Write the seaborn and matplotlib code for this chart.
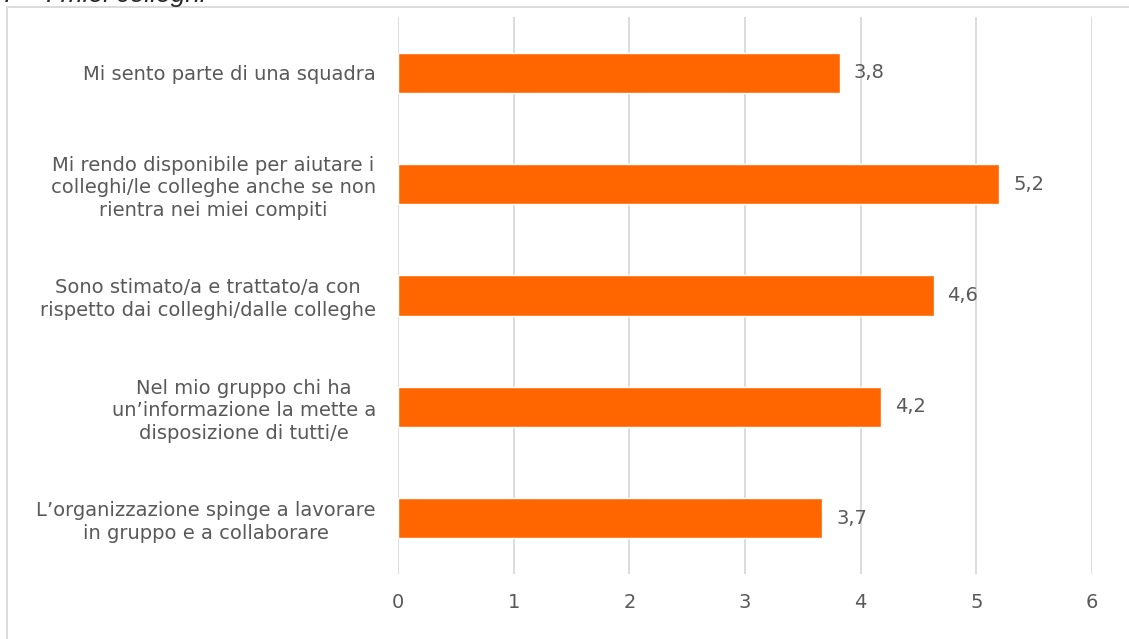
import matplotlib
matplotlib.use("Agg")
import matplotlib.pyplot as plt
import seaborn as sns
import pandas as pd
from matplotlib.patches import Rectangle

categories = [
    "Mi sento parte di una squadra",
    "Mi rendo disponibile per aiutare i\ncolleghi/le colleghe anche se non\nrientra nei miei compiti",
    "Sono stimato/a e trattato/a con\nrispetto dai colleghi/dalle colleghe",
    "Nel mio gruppo chi ha\nun\u2019informazione la mette a\ndisposizione di tutti/e",
    "L\u2019organizzazione spinge a lavorare\nin gruppo e a collaborare",
]
values = [3.82, 5.20, 4.63, 4.18, 3.67]
xticks = [0, 1, 2, 3, 4, 5, 6]
title = "7 \u2013 I miei colleghi"

df = pd.DataFrame({"cat": categories, "val": values})

sns.set_theme(style="white")
plt.rcParams["font.family"] = ["DejaVu Sans"]

W, H = 1129, 639
fig = plt.figure(figsize=(W / 100, H / 100), dpi=100)
ax = fig.add_axes([398 / W, 1 - 574 / H, (1092 - 398) / W, (574 - 17) / H])

sns.barplot(data=df, x="val", y="cat", orient="h", color="#FF6600",
            saturation=1, width=0.36, ax=ax, zorder=3)

FS = 14
ax.set_xlim(0, 6)
ax.set_xticks(xticks)
ax.set_xticklabels([str(t) for t in xticks])
ax.set_xlabel("")
ax.set_ylabel("")
for s in ax.spines.values():
    s.set_visible(False)
ax.grid(axis="x", color="#D9D9D9", linewidth=1.3, zorder=0)
ax.grid(axis="y", visible=False)
ax.tick_params(axis="x", length=0, pad=14, labelsize=FS, labelcolor="#595959")
ax.tick_params(axis="y", length=0, pad=16, labelsize=FS, labelcolor="#595959")
for lab in ax.get_yticklabels():
    lab.set_multialignment("center")
    lab.set_linespacing(1.25)

for cont in ax.containers:
    ax.bar_label(cont, labels=[f"{v:.1f}".replace(".", ",") for v in values],
                 padding=10, fontsize=FS, color="#595959")

# chart frame (partially outside)
fig.patches.append(Rectangle((7 / W, -0.1), 1.2, 1 - 7 / H + 0.1,
                             transform=fig.transFigure, fill=False,
                             edgecolor="#D9D9D9", linewidth=1.3))
fig.text(2 / W, 1 - 2 / H, title, fontsize=19, style="italic",
         family="Liberation Sans", color="#262626", ha="left", va="baseline")

fig.savefig("out.png", dpi=100, facecolor="white")
